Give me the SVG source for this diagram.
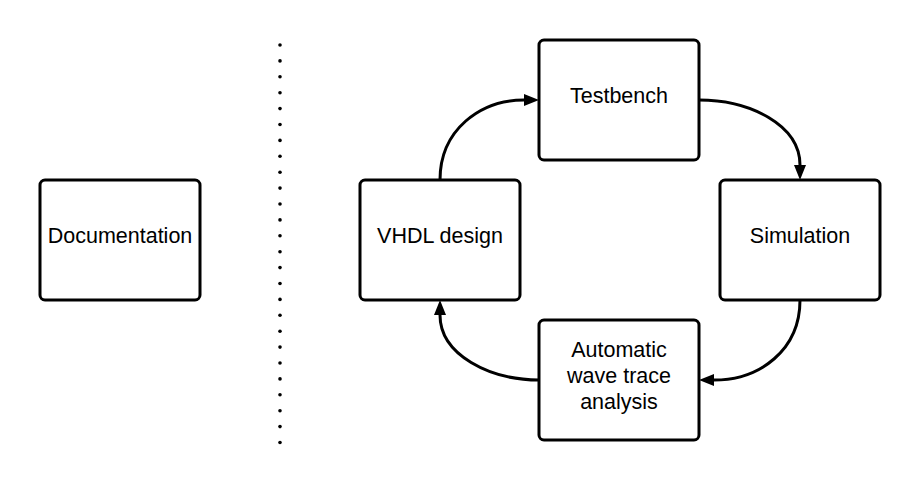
<svg xmlns="http://www.w3.org/2000/svg" width="918" height="484" viewBox="0 0 918 484">
<style>
.box{fill:#fff;stroke:#000;stroke-width:3}
.lbl{font-family:"Liberation Sans",Arial,sans-serif;font-size:21.5px;fill:#000;text-anchor:middle}
.edge{fill:none;stroke:#000;stroke-width:3}
.dot{fill:#000}
</style>
<defs>
<marker id="arr" markerUnits="userSpaceOnUse" markerWidth="16" markerHeight="13" refX="0" refY="6" orient="auto">
<path d="M0,0 L15,6 L0,12 z" fill="#000"/>
</marker>
</defs>
<rect width="918" height="484" fill="#fff"/>
<g id="divider">
<circle class="dot" cx="280" cy="45" r="1.8"/>
<circle class="dot" cx="280" cy="60.9" r="1.8"/>
<circle class="dot" cx="280" cy="76.8" r="1.8"/>
<circle class="dot" cx="280" cy="92.7" r="1.8"/>
<circle class="dot" cx="280" cy="108.6" r="1.8"/>
<circle class="dot" cx="280" cy="124.5" r="1.8"/>
<circle class="dot" cx="280" cy="140.4" r="1.8"/>
<circle class="dot" cx="280" cy="156.3" r="1.8"/>
<circle class="dot" cx="280" cy="172.2" r="1.8"/>
<circle class="dot" cx="280" cy="188.1" r="1.8"/>
<circle class="dot" cx="280" cy="204" r="1.8"/>
<circle class="dot" cx="280" cy="219.9" r="1.8"/>
<circle class="dot" cx="280" cy="235.8" r="1.8"/>
<circle class="dot" cx="280" cy="251.7" r="1.8"/>
<circle class="dot" cx="280" cy="267.6" r="1.8"/>
<circle class="dot" cx="280" cy="283.5" r="1.8"/>
<circle class="dot" cx="280" cy="299.4" r="1.8"/>
<circle class="dot" cx="280" cy="315.3" r="1.8"/>
<circle class="dot" cx="280" cy="331.2" r="1.8"/>
<circle class="dot" cx="280" cy="347.1" r="1.8"/>
<circle class="dot" cx="280" cy="363" r="1.8"/>
<circle class="dot" cx="280" cy="378.9" r="1.8"/>
<circle class="dot" cx="280" cy="394.8" r="1.8"/>
<circle class="dot" cx="280" cy="410.7" r="1.8"/>
<circle class="dot" cx="280" cy="426.6" r="1.8"/>
<circle class="dot" cx="280" cy="442.5" r="1.8"/>
</g>
<g id="connectors">
<path class="edge" d="M440,180 C440,130 480,100 524,100" marker-end="url(#arr)"/>
<path class="edge" d="M699,100 C750,100 800,125 800,165" marker-end="url(#arr)"/>
<path class="edge" d="M800,300 C800,350 760,380 714,380" marker-end="url(#arr)"/>
<path class="edge" d="M539,380 C490,380 440,355 440,315" marker-end="url(#arr)"/>
</g>
<g id="documentation">
<rect class="box" x="40" y="180" width="160" height="120" rx="5"/>
<text class="lbl" x="120" y="243">Documentation</text>
</g>
<g id="testbench">
<rect class="box" x="539" y="40" width="160" height="120" rx="5"/>
<text class="lbl" x="619" y="103">Testbench</text>
</g>
<g id="vhdl">
<rect class="box" x="360" y="180" width="160" height="120" rx="5"/>
<text class="lbl" x="440" y="243">VHDL design</text>
</g>
<g id="simulation">
<rect class="box" x="720" y="180" width="160" height="120" rx="5"/>
<text class="lbl" x="800" y="243">Simulation</text>
</g>
<g id="analysis">
<rect class="box" x="539" y="320" width="160" height="120" rx="5"/>
<text class="lbl" x="619" y="357">Automatic</text>
<text class="lbl" x="619" y="383">wave trace</text>
<text class="lbl" x="619" y="409">analysis</text>
</g>
</svg>
